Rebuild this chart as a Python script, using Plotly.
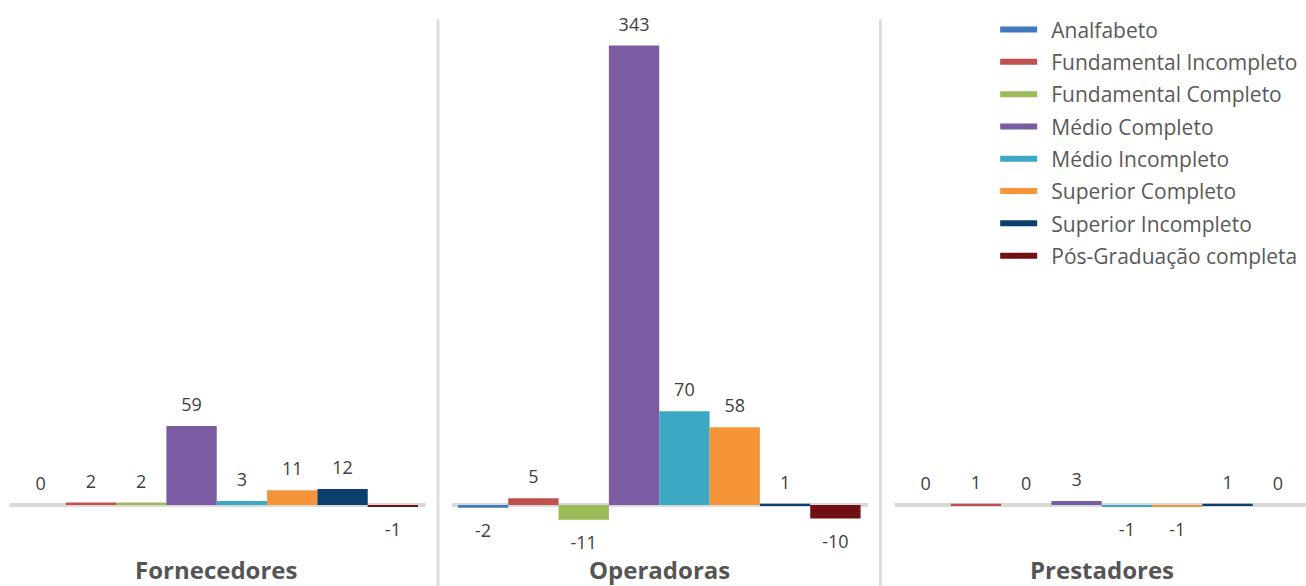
import plotly.graph_objects as go

categories = ["Fornecedores", "Operadoras", "Prestadores"]
series_names = [
    "Analfabeto",
    "Fundamental Incompleto",
    "Fundamental Completo",
    "Médio Completo",
    "Médio Incompleto",
    "Superior Completo",
    "Superior Incompleto",
    "Pós-Graduação completa",
]
analfabeto = [0, -2, 0]
fundamental_incompleto = [2, 5, 1]
fundamental_completo = [2, -11, 0]
medio_completo = [59, 343, 3]
medio_incompleto = [3, 70, -1]
superior_completo = [11, 58, -1]
superior_incompleto = [12, 1, 1]
pos_graduacao = [-1, -10, 0]

series_values = [
    analfabeto,
    fundamental_incompleto,
    fundamental_completo,
    medio_completo,
    medio_incompleto,
    superior_completo,
    superior_incompleto,
    pos_graduacao,
]
colors = ["#4079BF", "#C0504D", "#9BBB59", "#7B5BA1", "#3CA8C4", "#F59538", "#0B3F6E", "#701012"]

FONT = "Open Sans"
GAP = 0.09

fig = go.Figure()

# bars
for name, vals, col in zip(series_names, series_values, colors):
    fig.add_trace(go.Bar(
        x=categories, y=vals, name=name, marker=dict(color=col, line=dict(width=0)),
        showlegend=False, hoverinfo="skip",
    ))

# value labels (scatter text grouped like bars)
for name, vals, col in zip(series_names, series_values, colors):
    fig.add_trace(go.Scatter(
        x=categories, y=vals, mode="markers+text",
        text=[str(v) for v in vals],
        textposition=["top center" if v >= 0 else "bottom center" for v in vals],
        marker=dict(size=[15 if v >= 0 else 24 for v in vals], color="rgba(0,0,0,0)",
                    line=dict(width=0), opacity=0),
        textfont=dict(family=FONT, size=18, color="#404040"),
        showlegend=False, hoverinfo="skip", cliponaxis=False,
    ))

# legend entries (on hidden overlay axes so they do not affect grouping)
for name, col in zip(series_names, colors):
    fig.add_trace(go.Scatter(
        x=[None], y=[None], mode="lines", name="\u2009\u2009\u200a" + name, legendgroup=name,
        line=dict(color=col, width=6), xaxis="x2", yaxis="y2", hoverinfo="skip",
    ))

shapes = []
n = len(categories)
for i in range(n):
    shapes.append(dict(type="line", xref="x", yref="y", x0=i - 0.5 + 0.032, x1=i + 0.5 - 0.028,
                       y0=0, y1=0, line=dict(color="#D9D9D9", width=4), layer="below"))
for i in range(n - 1):
    shapes.append(dict(type="line", xref="x", yref="paper", x0=i + 0.5, x1=i + 0.5,
                       y0=0, y1=0.967, line=dict(color="#DDDDDD", width=3), layer="below"))

annotations = []
for cat in categories:
    annotations.append(dict(x=cat, xref="x", y=0.028, yref="paper", text="<b>%s</b>" % cat,
                            showarrow=False, yanchor="middle", xanchor="center",
                            font=dict(family=FONT, size=24, color="#555555")))

fig.update_layout(
    width=1306, height=586,
    margin=dict(l=0, r=0, t=0, b=0),
    paper_bgcolor="white", plot_bgcolor="white",
    barmode="group", bargap=GAP, bargroupgap=0,
    scattermode="group", scattergap=GAP,
    font=dict(family=FONT),
    xaxis=dict(range=[-0.4898, 2.4616], showticklabels=False, showgrid=False, zeroline=False,
               showline=False, ticks=""),
    yaxis=dict(range=[-60.4, 376.9], showticklabels=False, showgrid=False, zeroline=False,
               showline=False, ticks=""),
    xaxis2=dict(overlaying="x", visible=False, range=[0, 1]),
    yaxis2=dict(overlaying="y", visible=False, range=[0, 1]),
    legend=dict(x=0.762, xanchor="left", y=0.984, yanchor="top", bgcolor="rgba(0,0,0,0)",
                font=dict(family=FONT, size=21, color="#595959"), tracegroupgap=2,
                itemwidth=37),
    shapes=shapes,
    annotations=annotations,
)

fig.write_html("out.html", config={"displayModeBar": False},
               post_script="document.body.style.margin='0';document.body.style.padding='0';")
